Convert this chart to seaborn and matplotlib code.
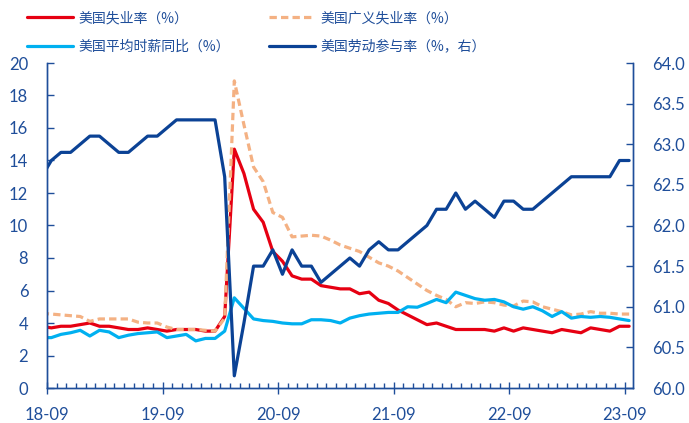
import numpy as np
import pandas as pd
import matplotlib
matplotlib.use("Agg")
import matplotlib.pyplot as plt
from matplotlib.ticker import MultipleLocator, FixedLocator, FixedFormatter
import seaborn as sns

# ---------------- data (monthly, 2018-08 .. 2023-09) ----------------
months = pd.period_range("2018-08", "2023-09", freq="M")

unemp = [3.8, 3.7, 3.8, 3.8, 3.9, 4.0, 3.8, 3.8, 3.7, 3.6, 3.6, 3.7, 3.6, 3.5, 3.6, 3.6,
         3.6, 3.5, 3.5, 4.4, 14.7, 13.2, 11.0, 10.2, 8.4, 7.8, 6.9, 6.7, 6.7, 6.3, 6.2,
         6.1, 6.1, 5.8, 5.9, 5.4, 5.2, 4.8, 4.5, 4.2, 3.9, 4.0, 3.8, 3.6, 3.6, 3.6, 3.6,
         3.5, 3.7, 3.5, 3.7, 3.6, 3.5, 3.4, 3.6, 3.5, 3.4, 3.7, 3.6, 3.5, 3.8, 3.8]

broad_unemp = [4.6, 4.55, 4.5, 4.45, 4.4, 4.1, 4.25, 4.25, 4.25, 4.25, 4.05, 4.0, 4.0,
               3.75, 3.6, 3.6, 3.6, 3.55, 3.5, 4.3, 18.9, 16.2, 13.6, 12.7, 10.8, 10.5,
               9.3, 9.35, 9.4, 9.35, 9.1, 8.8, 8.6, 8.4, 8.05, 7.7, 7.5, 7.2, 6.8, 6.4,
               6.0, 5.7, 5.45, 5.0, 5.25, 5.2, 5.3, 5.25, 5.1, 5.05, 5.35, 5.3, 5.0,
               4.85, 4.7, 4.5, 4.55, 4.7, 4.6, 4.6, 4.55, 4.55]

wage_yoy = [3.1, 3.1, 3.3, 3.4, 3.55, 3.2, 3.55, 3.45, 3.1, 3.25, 3.35, 3.4, 3.45, 3.1,
            3.2, 3.3, 2.9, 3.05, 3.05, 3.5, 5.55, 4.9, 4.25, 4.15, 4.1, 4.0, 3.95, 3.95,
            4.2, 4.2, 4.15, 4.0, 4.3, 4.45, 4.55, 4.6, 4.65, 4.65, 5.0, 4.97, 5.2, 5.45,
            5.25, 5.9, 5.7, 5.5, 5.4, 5.45, 5.3, 5.0, 4.85, 5.0, 4.75, 4.4, 4.7, 4.3,
            4.4, 4.35, 4.4, 4.35, 4.25, 4.15]

lfpr = [62.6, 62.8, 62.9, 62.9, 63.0, 63.1, 63.1, 63.0, 62.9, 62.9, 63.0, 63.1, 63.1,
        63.2, 63.3, 63.3, 63.3, 63.3, 63.3, 62.6, 60.15, 60.8, 61.5, 61.5, 61.7, 61.4,
        61.7, 61.5, 61.5, 61.3, 61.4, 61.5, 61.6, 61.5, 61.7, 61.8, 61.7, 61.7, 61.8,
        61.9, 62.0, 62.2, 62.2, 62.4, 62.2, 62.3, 62.2, 62.1, 62.3, 62.3, 62.2, 62.2,
        62.3, 62.4, 62.5, 62.6, 62.6, 62.6, 62.6, 62.6, 62.8, 62.8]

tick_labels = ["18-09", "19-09", "20-09", "21-09", "22-09", "23-09"]

labels = ["美国失业率（%）", "美国广义失业率（%）", "美国平均时薪同比（%）", "美国劳动参与率（%，右）"]

# ---------------- style ----------------
sns.set_theme(style="white")
plt.rcParams["font.family"] = ["Lato", "Noto Sans CJK SC", "DejaVu Sans"]

AXC = "#1F4E9A"
RED = "#E60012"
ORANGE = "#F4B183"
LBLUE = "#00B0F0"
DBLUE = "#0B4295"

# month index relative to 2018-09; points sit mid-month
base = pd.Period("2018-09", freq="M")
idx = np.array([(p - base).n for p in months], dtype=float)
df = pd.DataFrame({"x": idx + 0.45, "unemp": unemp, "broad": broad_unemp,
                   "wage": wage_yoy, "lfpr": lfpr})

fig = plt.figure(figsize=(6.89, 4.23), dpi=100)
ax = fig.add_axes([47 / 689, 1 - 388 / 423, (633 - 47) / 689, (388 - 63) / 423])
ax2 = ax.twinx()

lw = 2.3
sns.lineplot(data=df, x="x", y="unemp", ax=ax, color=RED, lw=lw, label=labels[0])
sns.lineplot(data=df, x="x", y="broad", ax=ax, color=ORANGE, lw=lw,
             linestyle=(0, (2.3, 1.3)), label=labels[1])
sns.lineplot(data=df, x="x", y="wage", ax=ax, color=LBLUE, lw=lw, label=labels[2])
sns.lineplot(data=df, x="x", y="lfpr", ax=ax2, color=DBLUE, lw=lw, label=labels[3])

for a in (ax, ax2):
    if a.get_legend() is not None:
        a.get_legend().remove()
    a.set_xlabel("")
    a.set_ylabel("")

ax.set_xlim(0, (633 - 47) / 9.63)
ax.set_ylim(0, 20)
ax2.set_ylim(60, 64)

ax.yaxis.set_major_locator(MultipleLocator(2))
ax2.yaxis.set_major_locator(MultipleLocator(0.5))
ax2.yaxis.set_major_formatter(matplotlib.ticker.FormatStrFormatter("%.1f"))

ax.xaxis.set_major_locator(FixedLocator([0, 12, 24, 36, 48, 60]))
ax.xaxis.set_major_formatter(FixedFormatter(tick_labels))
ax.xaxis.set_minor_locator(MultipleLocator(1))

for a in (ax, ax2):
    a.spines["top"].set_visible(False)
    for s in ("left", "right", "bottom"):
        a.spines[s].set_color(AXC)
        a.spines[s].set_linewidth(1.0)
    a.grid(False)

ax.tick_params(axis="y", which="major", direction="in", length=5, width=1, color=AXC,
               labelcolor=AXC, labelsize=12, pad=13.5, left=True)
ax2.tick_params(axis="y", which="major", direction="in", length=5, width=1, color=AXC,
                labelcolor=AXC, labelsize=12, pad=13.5, right=True)
ax.tick_params(axis="x", which="major", direction="inout", length=8, width=1, color=AXC,
               labelcolor=AXC, labelsize=12, pad=9.5, bottom=True)
ax.tick_params(axis="x", which="minor", direction="in", length=3.5, width=1, color=AXC,
               bottom=True)

lines_left = ax.get_lines()
line_right = ax2.get_lines()[0]
# column-first order: col1 = red, light blue ; col2 = orange, dark blue
handles = [lines_left[0], lines_left[2], lines_left[1], line_right]
hlabels = [labels[0], labels[2], labels[1], labels[3]]
leg = fig.legend(handles, hlabels, ncol=2, loc="upper left",
                 bbox_to_anchor=(27 / 689, 1 - 11 / 423), frameon=False,
                 borderpad=0, borderaxespad=0, handlelength=3.3, handletextpad=0.43,
                 columnspacing=2.78, labelspacing=1.05,
                 prop={"family": ["Noto Sans CJK SC", "DejaVu Sans"], "size": 10})
for t in leg.get_texts():
    t.set_color(AXC)

fig.savefig("out.png", dpi=100)
